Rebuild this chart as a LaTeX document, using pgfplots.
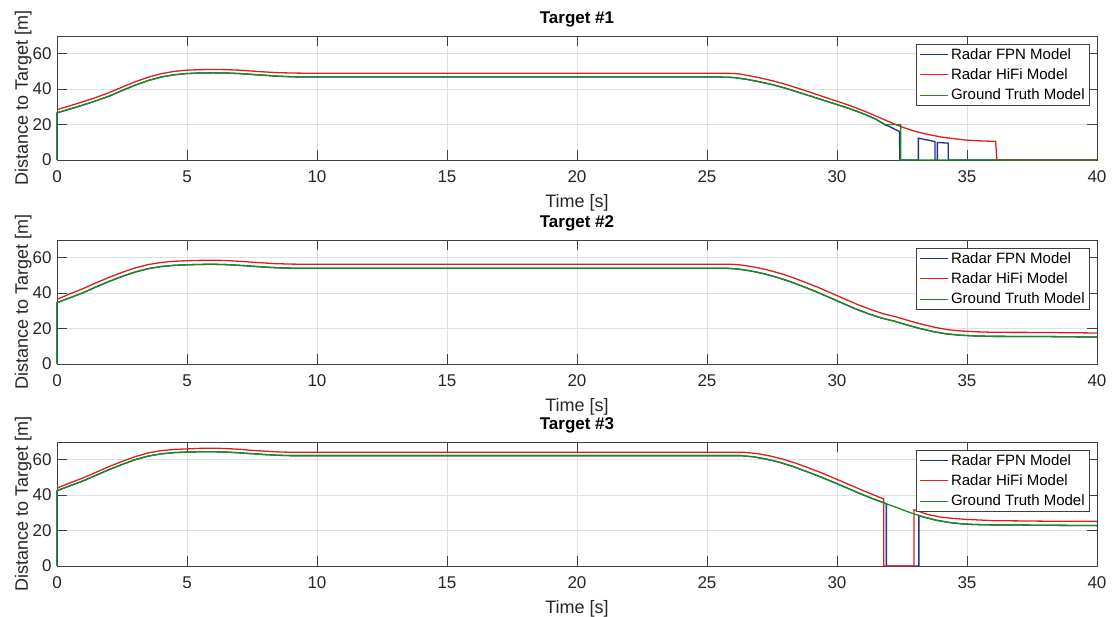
\documentclass[border=0pt]{standalone}
\usepackage{fontspec}
\setmainfont{Liberation Sans}
\usepackage{pgfplots}
\pgfplotsset{compat=1.18}

\definecolor{fpn}{RGB}{30,50,140}
\definecolor{hifi}{RGB}{222,30,30}
\definecolor{gt}{RGB}{25,140,25}

\pgfplotsset{
  radar/.style={
    width=1040pt, height=124pt, scale only axis,
    xmin=0, xmax=40, ymin=0, ymax=70,
    xtick={0,5,...,40}, ytick={0,20,40,60},
    grid=major, major grid style={black!12, line width=0.6pt},
    axis line style={black!75, line width=0.7pt},
    tick align=inside, tick pos=both, major tick length=10pt,
    tick style={black!75, line width=0.7pt},
    /pgf/number format/assume math mode=true,
    tick label style={font=\fontsize{17}{20}\selectfont, text=black!85},
    xticklabel style={anchor=base, yshift=-23pt},
    yticklabel style={xshift=-2pt},
    xlabel={Time [s]}, ylabel={Distance to Target [m]},
    label style={font=\fontsize{18}{21}\selectfont, text=black!85},
    xlabel style={at={(axis description cs:0.5,0)}, anchor=base, yshift=-48pt},
    ylabel style={at={(axis description cs:0,0.5)}, anchor=base, yshift=29pt},
    title style={at={(axis description cs:0.5,1)}, anchor=base, yshift=6pt,
      font=\bfseries\fontsize{17}{20}\selectfont},
    legend style={at={(1,1)}, anchor=north east, xshift=-7pt, yshift=-8pt,
      draw=black!75, line width=0.6pt, fill=white,
      font=\fontsize{15}{17}\selectfont, row sep=4pt,
      nodes={inner sep=2pt}},
    legend cell align=left,
    legend image code/.code={\draw[#1] (0pt,0pt) -- (28pt,0pt);},
    every axis plot/.append style={line width=1.3pt},
    clip=false,
  }
}

\begin{document}
\begin{tikzpicture}
\useasboundingbox (0,0) rectangle (1116pt,617pt);

% ---------------- Target #1
\begin{axis}[radar, at={(57pt,457pt)}, anchor=south west, title={Target \#1}]
\addplot[fpn] coordinates {
(0,0) (0,26.6) (0.5,28.8) (1,31) (1.5,33.4) (2,36) (2.5,39.2) (3,42.2) (3.5,44.8)
(4,46.8) (4.5,48.1) (5,48.8) (5.5,49.1) (6,49.2) (6.5,49.1) (7,48.8) (7.5,48.3)
(8,47.8) (8.5,47.3) (9,47) (9.5,46.8) (25.5,46.8) (26,46.6) (26.5,45.6) (27,44.2)
(27.5,42.6) (28,40.6) (28.5,38.3) (29,36) (29.5,33.6) (30,31.3) (30.5,28.9)
(31,26.2) (31.5,23) (31.85,19.8) (32,19) (32.4,16.1) (32.42,0) (33.13,0)
(33.13,12.3) (33.77,10.4) (33.77,0) (33.86,0) (33.86,9.9) (34.28,9.5) (34.28,0) (40,0)};
\addplot[hifi] coordinates {
(0,28.4) (0.5,30.6) (1,32.9) (1.5,35.3) (2,38) (2.5,41.1) (3,44.1) (3.5,46.7)
(4,48.7) (4.5,50) (5,50.7) (5.5,51) (6,51.1) (6.5,51) (7,50.7) (7.5,50.2)
(8,49.7) (8.5,49.3) (9,49.1) (9.5,49) (25.7,49) (26.2,48.7) (26.5,47.9) (27,46.5)
(27.5,44.8) (28,42.8) (28.5,40.5) (29,38.1) (29.5,35.6) (30,33.2) (30.5,30.7)
(31,27.9) (31.5,24.8) (32,21.6) (32.5,18.6) (33,16.2) (33.5,14.4) (34,13)
(34.5,12) (35,11.2) (35.5,10.8) (36.1,10.5) (36.15,0) (40,0)};
\addplot[gt] coordinates {
(0,0) (0,26.6) (0.5,28.8) (1,31) (1.5,33.4) (2,36) (2.5,39.2) (3,42.2) (3.5,44.8)
(4,46.8) (4.5,48.1) (5,48.8) (5.5,49.1) (6,49.2) (6.5,49.1) (7,48.8) (7.5,48.3)
(8,47.8) (8.5,47.3) (9,47) (9.5,46.8) (25.5,46.8) (26,46.6) (26.5,45.6) (27,44.2)
(27.5,42.6) (28,40.6) (28.5,38.3) (29,36) (29.5,33.6) (30,31.3) (30.5,28.9)
(31,26.2) (31.5,23) (31.85,20) (32.45,20) (32.45,0) (40,0)};
\legend{Radar FPN Model, Radar HiFi Model, Ground Truth Model}
\end{axis}

% ---------------- Target #2
\begin{axis}[radar, at={(57pt,253pt)}, anchor=south west, title={Target \#2}]
\addplot[fpn] coordinates {
(0,0) (0,34.6) (0.5,37.4) (1,40.2) (1.5,43.5) (2,46.6) (2.5,49.4) (3,51.9)
(3.5,53.8) (4,55) (4.5,55.7) (5,56) (5.5,56.2) (6,56.3) (6.5,56.1) (7,55.7)
(7.5,55.2) (8,54.7) (8.5,54.3) (9,54.1) (9.5,54) (25.8,54) (26.2,53.6) (26.7,52.5)
(27.2,50.9) (27.7,48.9) (28.2,46.5) (28.7,43.7) (29.2,40.8) (29.7,37.6) (30.2,34.4)
(30.7,31.2) (31.2,28.4) (31.7,26) (32.2,24.2) (32.7,22) (33.2,20) (33.7,18.3)
(34.2,17) (34.7,16.3) (35.2,15.9) (36,15.6) (38,15.5) (40,15.2)};
\addplot[hifi] coordinates {
(0,36.5) (0.5,39.6) (1,42.5) (1.5,45.8) (2,48.9) (2.5,51.7) (3,54.2)
(3.5,56.1) (4,57.3) (4.5,58) (5,58.3) (5.5,58.5) (6,58.6) (6.5,58.4) (7,58)
(7.5,57.5) (8,57) (8.5,56.6) (9,56.4) (9.5,56.3) (25.9,56.3) (26.3,55.9) (26.8,54.8)
(27.3,53.2) (27.8,51.2) (28.3,48.8) (28.8,46) (29.3,43.1) (29.8,39.9) (30.3,36.7)
(30.8,33.5) (31.3,30.7) (31.8,28.3) (32.3,26.5) (32.8,24.3) (33.3,22.3) (33.8,20.6)
(34.3,19.3) (34.8,18.6) (35.3,18.2) (36,17.9) (38,17.8) (40,17.5)};
\addplot[gt] coordinates {
(0,0) (0,34.6) (0.5,37.4) (1,40.2) (1.5,43.5) (2,46.6) (2.5,49.4) (3,51.9)
(3.5,53.8) (4,55) (4.5,55.7) (5,56) (5.5,56.2) (6,56.3) (6.5,56.1) (7,55.7)
(7.5,55.2) (8,54.7) (8.5,54.3) (9,54.1) (9.5,54) (25.8,54) (26.2,53.6) (26.7,52.5)
(27.2,50.9) (27.7,48.9) (28.2,46.5) (28.7,43.7) (29.2,40.8) (29.7,37.6) (30.2,34.4)
(30.7,31.2) (31.2,28.4) (31.7,26) (32.2,24.2) (32.7,22) (33.2,20) (33.7,18.3)
(34.2,17) (34.7,16.3) (35.2,15.9) (36,15.6) (38,15.5) (40,15.2)};
\legend{Radar FPN Model, Radar HiFi Model, Ground Truth Model}
\end{axis}

% ---------------- Target #3
\begin{axis}[radar, at={(57pt,51pt)}, anchor=south west, title={Target \#3}]
\addplot[fpn] coordinates {
(0,0) (0,42.5) (0.5,45.3) (1,48) (1.5,51.2) (2,54.4) (2.5,57.3) (3,60) (3.5,62)
(4,63.3) (4.5,64) (5,64.3) (5.5,64.5) (6,64.5) (6.5,64.3) (7,63.9) (7.5,63.4)
(8,62.9) (8.5,62.5) (9,62.3) (9.5,62.3) (26.3,62.3) (26.8,61.6) (27.3,60.3)
(27.8,58.5) (28.3,56.2) (28.8,53.5) (29.3,50.7) (29.8,47.7) (30.3,44.6) (30.8,41.4)
(31.3,38.4) (31.9,35.1) (31.9,0) (33.15,0) (33.15,28.5) (33.3,27.8) (33.8,25.9)
(34.3,24.6) (34.8,23.8) (35.3,23.4) (36,23.2) (38,23) (40,22.8)};
\addplot[hifi] coordinates {
(0,44) (0.5,46.9) (1,49.7) (1.5,52.9) (2,56.1) (2.5,59) (3,61.7) (3.5,63.8)
(4,65.1) (4.5,65.8) (5,66.1) (5.5,66.4) (6,66.5) (6.5,66.3) (7,65.9) (7.5,65.3)
(8,64.8) (8.5,64.4) (9,64.2) (9.5,64.2) (26.4,64.2) (26.9,63.5) (27.4,62.2)
(27.9,60.4) (28.4,58.1) (28.9,55.4) (29.4,52.6) (29.9,49.5) (30.4,46.4) (30.9,43.2)
(31.4,40.2) (31.8,37.8) (31.8,0) (32.96,0) (32.96,31.8) (33.5,29) (34,27.6)
(34.5,26.8) (35,26.3) (36,25.6) (38,25.3) (40,25.2)};
\addplot[gt] coordinates {
(0,0) (0,42.5) (0.5,45.3) (1,48) (1.5,51.2) (2,54.4) (2.5,57.3) (3,60) (3.5,62)
(4,63.3) (4.5,64) (5,64.3) (5.5,64.5) (6,64.5) (6.5,64.3) (7,63.9) (7.5,63.4)
(8,62.9) (8.5,62.5) (9,62.3) (9.5,62.3) (26.3,62.3) (26.8,61.6) (27.3,60.3)
(27.8,58.5) (28.3,56.2) (28.8,53.5) (29.3,50.7) (29.8,47.7) (30.3,44.6) (30.8,41.4)
(31.3,38.4) (31.8,35.6) (32.3,33) (32.8,30.2) (33.3,27.8) (33.8,25.9)
(34.3,24.6) (34.8,23.8) (35.3,23.4) (36,23.2) (38,23) (40,22.8)};
\legend{Radar FPN Model, Radar HiFi Model, Ground Truth Model}
\end{axis}
\end{tikzpicture}
\end{document}
